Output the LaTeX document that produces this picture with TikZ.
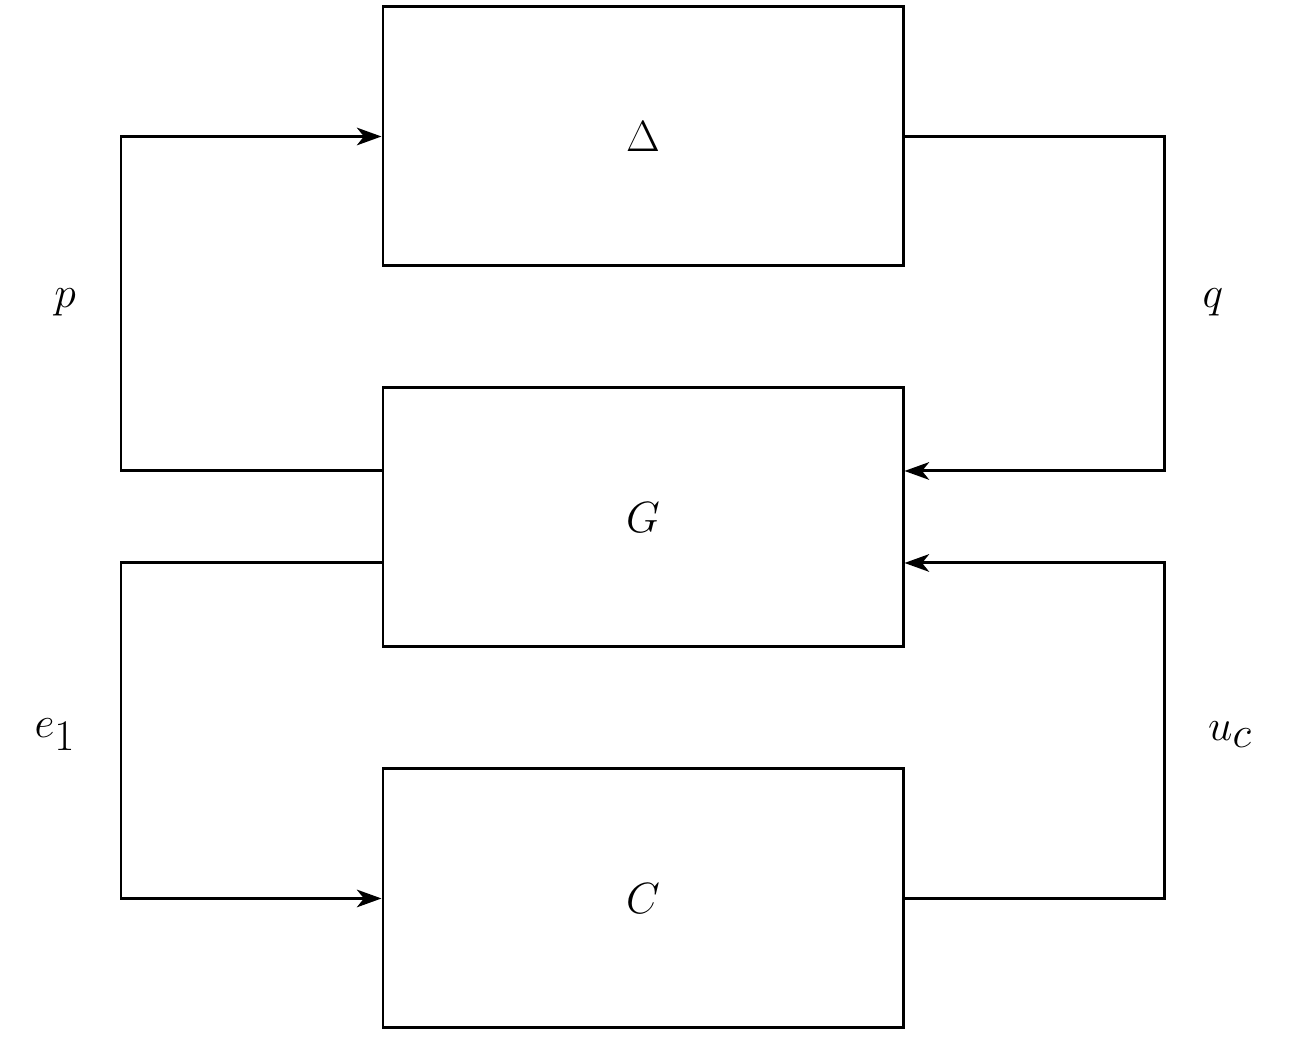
\documentclass[tikz,border=0pt]{standalone}
\usetikzlibrary{positioning,arrows.meta}
\begin{document}
\begin{tikzpicture}[auto,node distance=2.38cm,scale=1, block/.style = {minimum width=10.4cm, minimum height=5.18cm, draw, line width=1.7pt, font=\fontsize{38}{44}\selectfont},
                every path/.style = {line width=1.7pt}, sig/.style = {-{Stealth[length=14pt,width=10pt,inset=4pt]}},
                lab/.style = {font=\fontsize{40}{46}\selectfont}]
                \useasboundingbox (0,0) rectangle (26,20.84);
                \node[block] (delta) at (12.86,18.11) {$\Delta$};
                \node[block] (g) [below=of delta] {$G$};
                \node[block] (c) [below=of g] {$C$};
                \coordinate (gl1) at ([yshift=0.93cm]g.west);
                \coordinate (gl2) at ([yshift=-0.91cm]g.west);
                \coordinate (gr1) at ([yshift=0.93cm]g.east);
                \coordinate (gr2) at ([yshift=-0.91cm]g.east);
                \draw[sig] (gl1) -- (2.42,0 |- gl1) |- (delta.west);
                \draw[sig] (delta.east) -- (23.28,0 |- delta.east) |- (gr1);
                \draw[sig] (gl2) -- (2.42,0 |- gl2) |- (c.west);
                \draw[sig] (c.east) -- (23.28,0 |- c.east) |- (gr2);
                \node[lab] (p) at (1.3,14.8) {$p$};
                \node[lab] (q) at (24.26,14.8) {$q$};
                \node[lab] (e1) at (1.1,6.15) {$e_1$};
                \node[lab] (uc) at (24.6,6.15) {$u_c$};
            \end{tikzpicture}
\end{document}
